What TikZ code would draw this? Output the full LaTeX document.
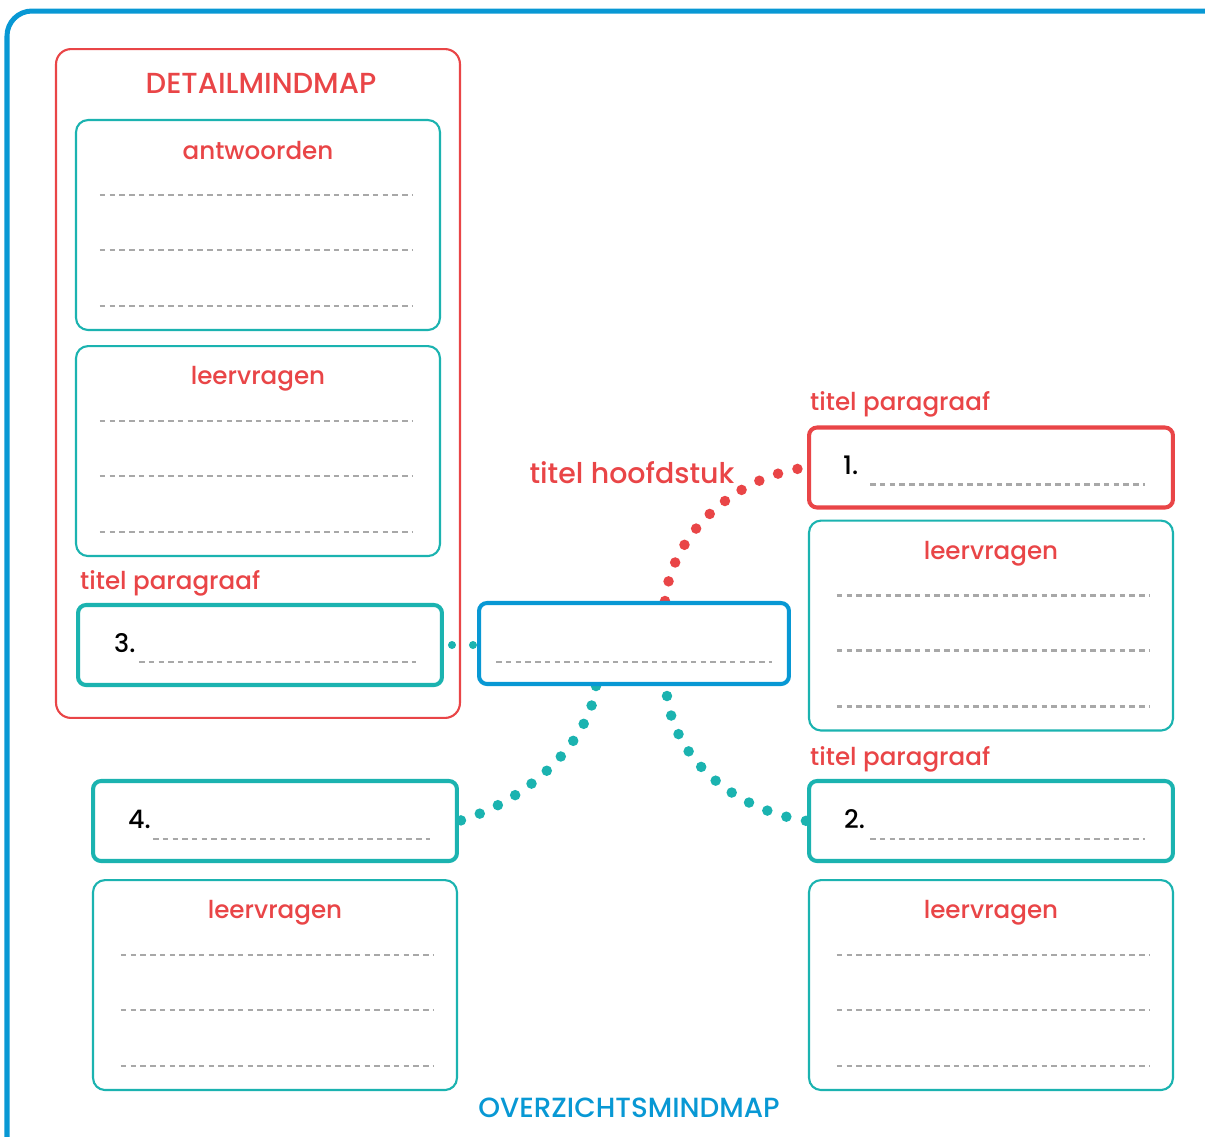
\documentclass[tikz,border=0pt]{standalone}
\usepackage{fontspec}
\setmainfont{Poppins}[UprightFont=* Medium]
\usetikzlibrary{positioning,calc,backgrounds}
\definecolor{rood}{RGB}{233,69,71}
\definecolor{turkoois}{RGB}{27,179,176}
\definecolor{blauw}{RGB}{8,152,212}
\definecolor{grijs}{RGB}{168,168,168}
\tikzset{
    vak/.style={
        rectangle,
        rounded corners=0.24cm,
        line width=1.2pt,
        draw=turkoois,
        fill=white,
        minimum width=7.28cm,
        minimum height=4.2cm,
    },
    nummervak/.style={
        rectangle,
        rounded corners=0.16cm,
        line width=2.3pt,
        draw=turkoois,
        fill=white,
        minimum width=7.28cm,
        minimum height=1.6cm,
    },
    kop/.style={text=rood, font=\fontsize{14}{17}\selectfont},
    hoofdletters/.style={font=\fontsize{16.5}{19}\selectfont},
    nummer/.style={anchor=west, font=\fontsize{14.5}{17}\selectfont},
    streep/.style={draw=grijs, line width=1.3pt, dash pattern=on 0.11cm off 0.085cm},
    stip/.style={line width=0.21cm, line cap=round, dash pattern=on 0pt off 0.4cm},
}

\begin{document}
\begin{tikzpicture}[x=0.02cm,y=-0.02cm]
	    \useasboundingbox (0,0) rectangle (1205,1137);
	    \draw [blauw,line width=2.85pt,rounded corners=0.5cm] (7,11) rectangle (1250,1180);
	    % detailmindmap
	    \node [draw=rood,line width=1.2pt,rounded corners=0.3cm,minimum width=8.08cm,minimum height=13.38cm] (detail) at (258,383.5) {};
	    \node [kop,hoofdletters] (detailkop) at (261,83) {DETAILMINDMAP};
	    \node [vak] (antw) at (258,225) {};
	    \node [vak] (vraagA) [below=0.28cm of antw] {};
	    \node [nummervak] (p3) at (260,645) {};
	    \node [kop] at ([yshift=-0.64cm]antw.north) {antwoorden};
	    \node [kop] at ([yshift=-0.68cm]vraagA.north) {leervragen};
	    \node [kop,anchor=west] (tp3) at ([xshift=-0.04cm,yshift=0.4cm]p3.north west) {titel paragraaf};
	    \node [nummer] (n3) at ([xshift=0.64cm,yshift=0.04cm]p3.west) {3.};
	    % overzichtsmindmap
	    \node [nummervak,draw=blauw,minimum width=6.2cm,minimum height=1.62cm] (hfd) at (634,643.5) {};
	    \node [kop,font=\fontsize{16.2}{19}\selectfont] (hfdkop) at ([xshift=-0.04cm,yshift=2.56cm]hfd.north) {titel hoofdstuk};
	    \node [nummervak,draw=rood] (p1) at (991,467.5) {};
	    \node [vak] (vraag1) [below=0.2cm of p1] {};
	    \node [nummervak] (p2) at (991,821) {};
	    \node [vak] (vraag2) [below=0.32cm of p2] {};
	    \node [nummervak] (p4) at (275,821) {};
	    \node [vak] (vraag4) [below=0.32cm of p4] {};
	    \node [kop,anchor=west] (tp1) at ([xshift=-0.06cm,yshift=0.42cm]p1.north west) {titel paragraaf};
	    \node [kop,anchor=west] (tp2) at ([xshift=-0.06cm,yshift=0.4cm]p2.north west) {titel paragraaf};
	    \node [kop] at ([yshift=-0.68cm]vraag1.north) {leervragen};
	    \node [kop] at ([yshift=-0.68cm]vraag2.north) {leervragen};
	    \node [kop] at ([yshift=-0.68cm]vraag4.north) {leervragen};
	    \node [nummer] (n1) at ([xshift=0.6cm,yshift=0.04cm]p1.west) {1.};
	    \node [nummer] (n2) at ([xshift=0.62cm,yshift=0.04cm]p2.west) {2.};
	    \node [nummer] (n4) at ([xshift=0.62cm,yshift=0.04cm]p4.west) {4.};
	    \node [text=blauw,font=\fontsize{15.8}{19}\selectfont] (overzkop) at (629,1108) {OVERZICHTSMINDMAP};
	    % stippellijnen in de vakken
	    \draw [streep] ([xshift=0.5cm,yshift=-1.52cm]antw.north west) -- ([xshift=-0.58cm,yshift=-1.52cm]antw.north east);
	    \draw [streep] ([xshift=0.5cm,yshift=-2.62cm]antw.north west) -- ([xshift=-0.58cm,yshift=-2.62cm]antw.north east);
	    \draw [streep] ([xshift=0.5cm,yshift=-3.74cm]antw.north west) -- ([xshift=-0.58cm,yshift=-3.74cm]antw.north east);
	    \draw [streep] ([xshift=0.5cm,yshift=-1.52cm]vraagA.north west) -- ([xshift=-0.58cm,yshift=-1.52cm]vraagA.north east);
	    \draw [streep] ([xshift=0.5cm,yshift=-2.62cm]vraagA.north west) -- ([xshift=-0.58cm,yshift=-2.62cm]vraagA.north east);
	    \draw [streep] ([xshift=0.5cm,yshift=-3.74cm]vraagA.north west) -- ([xshift=-0.58cm,yshift=-3.74cm]vraagA.north east);
	    \draw [streep] ([xshift=0.58cm,yshift=-1.52cm]vraag1.north west) -- ([xshift=-0.5cm,yshift=-1.52cm]vraag1.north east);
	    \draw [streep] ([xshift=0.58cm,yshift=-2.62cm]vraag1.north west) -- ([xshift=-0.5cm,yshift=-2.62cm]vraag1.north east);
	    \draw [streep] ([xshift=0.58cm,yshift=-3.74cm]vraag1.north west) -- ([xshift=-0.5cm,yshift=-3.74cm]vraag1.north east);
	    \draw [streep] ([xshift=0.58cm,yshift=-1.52cm]vraag2.north west) -- ([xshift=-0.5cm,yshift=-1.52cm]vraag2.north east);
	    \draw [streep] ([xshift=0.58cm,yshift=-2.62cm]vraag2.north west) -- ([xshift=-0.5cm,yshift=-2.62cm]vraag2.north east);
	    \draw [streep] ([xshift=0.58cm,yshift=-3.74cm]vraag2.north west) -- ([xshift=-0.5cm,yshift=-3.74cm]vraag2.north east);
	    \draw [streep] ([xshift=0.58cm,yshift=-1.52cm]vraag4.north west) -- ([xshift=-0.5cm,yshift=-1.52cm]vraag4.north east);
	    \draw [streep] ([xshift=0.58cm,yshift=-2.62cm]vraag4.north west) -- ([xshift=-0.5cm,yshift=-2.62cm]vraag4.north east);
	    \draw [streep] ([xshift=0.58cm,yshift=-3.74cm]vraag4.north west) -- ([xshift=-0.5cm,yshift=-3.74cm]vraag4.north east);
	    \draw [streep] ([xshift=1.26cm,yshift=-1.18cm]p1.north west) -- ([xshift=-0.6cm,yshift=-1.18cm]p1.north east);
	    \draw [streep] ([xshift=1.26cm,yshift=-1.2cm]p2.north west) -- ([xshift=-0.6cm,yshift=-1.2cm]p2.north east);
	    \draw [streep] ([xshift=1.26cm,yshift=-1.18cm]p3.north west) -- ([xshift=-0.56cm,yshift=-1.18cm]p3.north east);
	    \draw [streep] ([xshift=1.24cm,yshift=-1.2cm]p4.north west) -- ([xshift=-0.58cm,yshift=-1.2cm]p4.north east);
	    \draw [streep] ([xshift=0.38cm,yshift=-1.22cm]hfd.north west) -- ([xshift=-0.38cm,yshift=-1.22cm]hfd.north east);
	    % verbindingen
	    \begin{scope}[on background layer]
	    \draw [stip,rood] ([xshift=0.62cm]hfd.north) .. controls (672,530) and (740,475) .. (p1.west);
	    \draw [stip,turkoois] ([xshift=-0.76cm]hfd.south) .. controls (590,740) and (530,800) .. (p4.east);
	    \draw [stip,turkoois] ([xshift=0.66cm,yshift=-0.2cm]hfd.south) .. controls (675,760) and (735,810) .. (p2.west);
	    \draw [stip,turkoois,line width=0.16cm,dash pattern=on 0pt off 0.42cm,dash phase=0.26cm] (p3.east) -- (p3.east -| hfd.west);
	    \end{scope}
	\end{tikzpicture}
\end{document}
